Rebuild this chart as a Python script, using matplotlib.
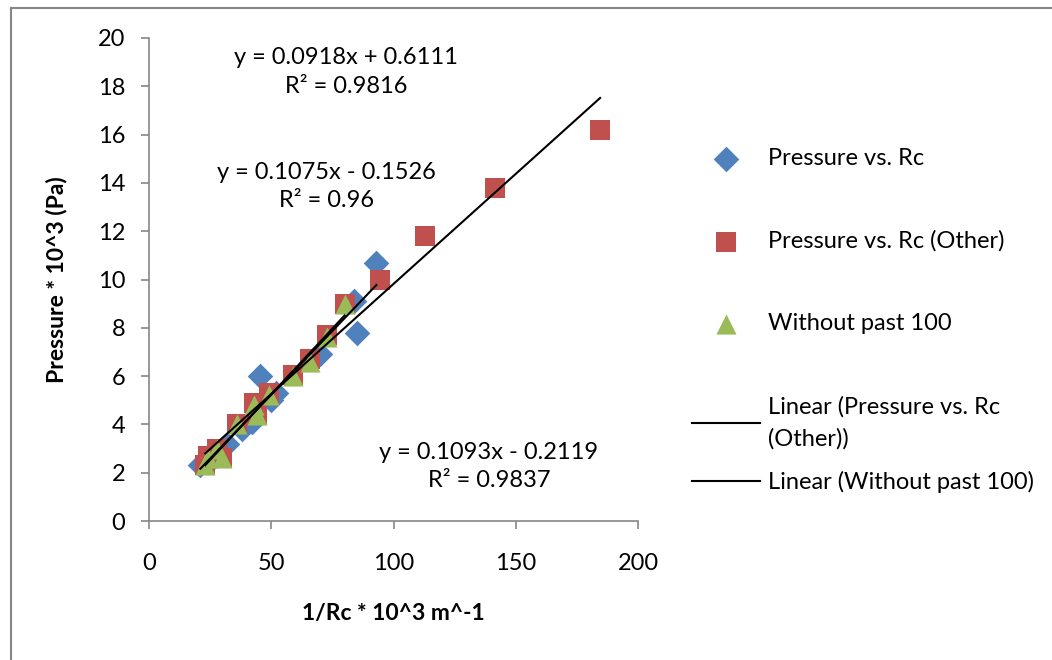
import numpy as np
import matplotlib
matplotlib.use("Agg")
import matplotlib.pyplot as plt
from matplotlib.lines import Line2D

plt.rcParams['font.family'] = ['Lato', 'DejaVu Sans']

# ---- data ----
blue_x = [21, 25, 32, 38, 42, 45.5, 50, 52, 70, 84, 85, 93]
blue_y = [2.3, 2.5, 3.2, 3.8, 4.1, 6.0, 5.0, 5.3, 6.9, 9.1, 7.8, 10.7]

red_x = [23, 24, 28, 30, 36, 43, 44, 49, 59, 66, 73, 80, 94.5, 113, 141.5, 184.5]
red_y = [2.3, 2.7, 3.0, 2.6, 4.0, 4.9, 4.4, 5.3, 6.05, 6.7, 7.7, 9.0, 10.0, 11.8, 13.8, 16.2]

green_x = [23, 24, 28, 30, 36, 43, 44, 49, 59, 66, 73, 80]
green_y = [2.3, 2.6, 3.0, 2.6, 4.0, 4.8, 4.4, 5.2, 6.0, 6.6, 7.6, 9.0]

eq_texts = [("y = 0.0918x + 0.6111\nR² = 0.9816", 80.5, 18.6),
            ("y = 0.1075x - 0.1526\nR² = 0.96", 72.5, 13.85),
            ("y = 0.1093x - 0.2119\nR² = 0.9837", 139.0, 2.25)]

xticks = [0, 50, 100, 150, 200]
yticks = [0, 2, 4, 6, 8, 10, 12, 14, 16, 18, 20]

BLUE = '#4F81BD'
RED = '#C0504D'
GREEN = '#9BBB59'
AXC = '#868686'
FS = 17

W, H = 1052, 660
fig = plt.figure(figsize=(W / 100, H / 100), dpi=100)
ax = fig.add_axes([149 / W, 1 - 521 / H, (638 - 149) / W, (521 - 38) / H])

ax.scatter(blue_x, blue_y, marker='D', s=170, color=BLUE, linewidths=0, zorder=3,
           label='Pressure vs. Rc')
ax.scatter(red_x, red_y, marker='s', s=210, color=RED, linewidths=0, zorder=4,
           label='Pressure vs. Rc (Other)')
ax.scatter(green_x, green_y, marker='^', s=210, color=GREEN, linewidths=0, zorder=5,
           label='Without past 100')


def trend(xs, ys, label=None):
    k, b = np.polyfit(xs, ys, 1)
    xx = np.array([min(xs), max(xs)])
    return ax.plot(xx, k * xx + b, color='black', lw=1.5, zorder=6, label=label)[0]


l1 = trend(red_x, red_y, 'Linear (Pressure vs. Rc\n(Other))')
l2 = trend(green_x, green_y, 'Linear (Without past 100)')
trend(blue_x, blue_y, None)

for t, x, y in eq_texts:
    ax.text(x, y, t, ha='center', va='center', fontsize=FS, linespacing=1.45, color='black')

ax.set_xlim(0, 200)
ax.set_ylim(0, 20)
ax.set_xticks(xticks)
ax.set_yticks(yticks)
ax.tick_params(axis='both', labelsize=FS, color=AXC, length=6, width=1.2, direction='out')
ax.tick_params(axis='x', pad=17)
ax.tick_params(axis='y', pad=11)
for s in ['top', 'right']:
    ax.spines[s].set_visible(False)
for s in ['left', 'bottom']:
    ax.spines[s].set_color(AXC)
    ax.spines[s].set_linewidth(1.2)

ax.set_xlabel('1/Rc * 10^3 m^-1', fontsize=16.5, fontweight='bold', labelpad=21)
ax.set_ylabel('Pressure * 10^3 (Pa)', fontsize=16.5, fontweight='bold', labelpad=22)

handles, labels = ax.get_legend_handles_labels()
leg1 = fig.legend(handles[:4], labels[:4], loc='upper left', bbox_to_anchor=(692 / W, 1 - 148 / H),
                  frameon=False, fontsize=FS, labelspacing=2.6, handlelength=2.9,
                  handletextpad=0.3, borderaxespad=0, borderpad=0)
leg1.get_texts()[3].set_linespacing(1.6)
leg2 = fig.legend(handles[4:], labels[4:], loc='upper left', bbox_to_anchor=(692 / W, 1 - 471 / H),
                  frameon=False, fontsize=FS, handlelength=2.9,
                  handletextpad=0.3, borderaxespad=0, borderpad=0)

# outer chart frame
fig.add_artist(Line2D([11 / W, 11 / W], [0, 1 - 8 / H], color=AXC, lw=1.5))
fig.add_artist(Line2D([11 / W, 1], [1 - 8 / H, 1 - 8 / H], color=AXC, lw=1.5))

fig.savefig('out.png', dpi=100)
